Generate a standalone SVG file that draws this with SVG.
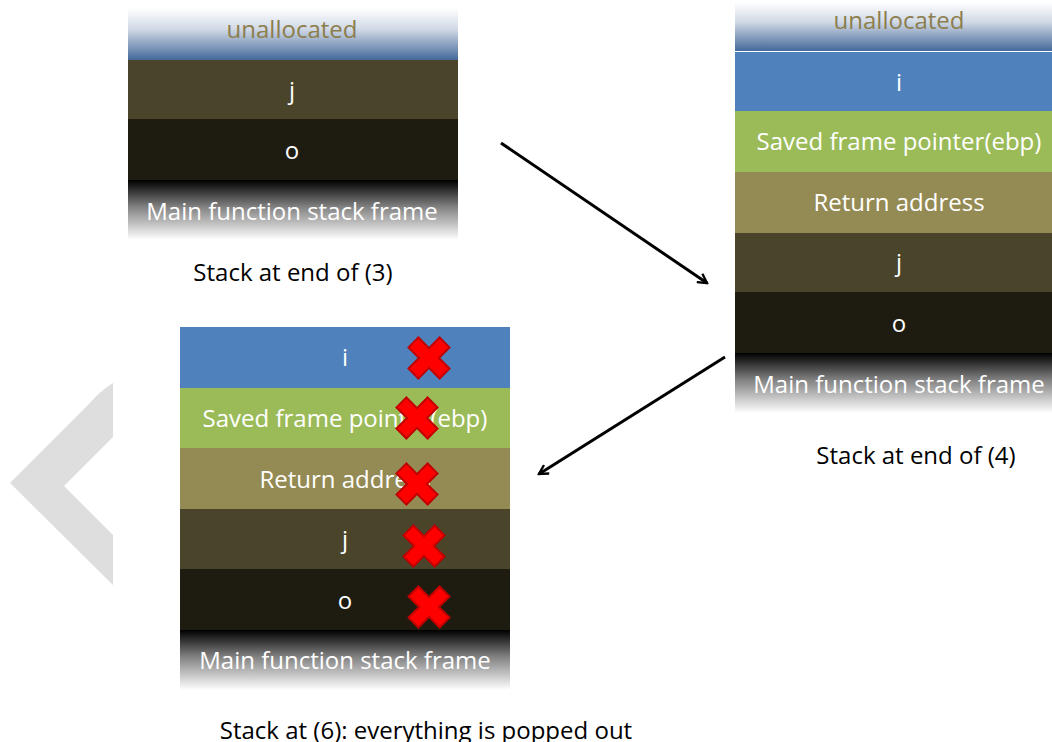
<svg xmlns="http://www.w3.org/2000/svg" width="1052" height="742" viewBox="0 0 1052 742">
  <defs>
    <linearGradient id="unalloc" x1="0" y1="0" x2="0" y2="1">
      <stop offset="0" stop-color="#ffffff"/>
      <stop offset="0.4" stop-color="#d2dae6"/>
      <stop offset="1" stop-color="#44699a"/>
    </linearGradient>
    <linearGradient id="mainframe" x1="0" y1="0" x2="0" y2="1">
      <stop offset="0" stop-color="#000000"/>
      <stop offset="0.45" stop-color="#828282"/>
      <stop offset="1" stop-color="#ffffff"/>
    </linearGradient>
    <marker id="arrow" viewBox="0 0 12 12" refX="10" refY="6" markerWidth="12" markerHeight="12" markerUnits="userSpaceOnUse" orient="auto">
      <path d="M1,1 L10,6 L1,11" fill="none" stroke="#000" stroke-width="2.4" stroke-linejoin="miter"/>
    </marker>
    <path id="cross" d="M-7,-22 L7,-22 L7,-7 L22,-7 L22,7 L7,7 L7,22 L-7,22 L-7,7 L-22,7 L-22,-7 L-7,-7 Z" transform="rotate(45)"/>
  </defs>
  <style>
    .lbl { font-family: "Open Sans", "Liberation Sans", sans-serif; font-size: 24px; fill: #ffffff; text-anchor: middle; }
    .un { font-family: "Open Sans", "Liberation Sans", sans-serif; font-size: 24px; fill: #8c7e4d; text-anchor: middle; }
    .cap { font-family: "Open Sans", "Liberation Sans", sans-serif; font-size: 24px; fill: #000000; text-anchor: middle; }
    .blue { fill: #4f81bd; }
    .green { fill: #9bbb59; }
    .tan { fill: #948a54; }
    .olive { fill: #4a452a; }
    .dark { fill: #1e1c11; }
    .x { fill: #ff0000; stroke: #c00000; stroke-width: 2; }
    .conn { stroke: #000; stroke-width: 3; fill: none; marker-end: url(#arrow); }
  </style>
  <rect width="1052" height="742" fill="#ffffff"/>

  <!-- faint chevron on the left edge -->
  <path d="M10,483 L88,405 Q100,391 113,383 L113,437 L64,486 L113,535 L113,585 Z" fill="#dedede"/>

  <!-- stack after step 3 -->
  <g id="stack3">
    <rect x="128" y="8" width="330" height="52" fill="url(#unalloc)"/>
    <rect x="128" y="60" width="330" height="59" class="olive"/>
    <rect x="128" y="119" width="330" height="61" class="dark"/>
    <rect x="128" y="180" width="330" height="60" fill="url(#mainframe)"/>
    <text x="292" y="38" class="un">unallocated</text>
    <text x="292" y="99" class="lbl">j</text>
    <text x="292" y="159" class="lbl">o</text>
    <text x="292" y="220" class="lbl">Main function stack frame</text>
    <text x="293" y="281" class="cap">Stack at end of (3)</text>
  </g>

  <!-- stack after step 4 -->
  <g id="stack4">
    <rect x="735" y="2" width="330" height="49" fill="url(#unalloc)"/>
    <rect x="735" y="52" width="330" height="59" class="blue"/>
    <rect x="735" y="111" width="330" height="61" class="green"/>
    <rect x="735" y="172" width="330" height="61" class="tan"/>
    <rect x="735" y="233" width="330" height="59" class="olive"/>
    <rect x="735" y="292" width="330" height="61" class="dark"/>
    <rect x="735" y="353" width="330" height="60" fill="url(#mainframe)"/>
    <text x="899" y="29" class="un">unallocated</text>
    <text x="899" y="91" class="lbl">i</text>
    <text x="899" y="150" class="lbl">Saved frame pointer(ebp)</text>
    <text x="899" y="211" class="lbl">Return address</text>
    <text x="899" y="271" class="lbl">j</text>
    <text x="899" y="332" class="lbl">o</text>
    <text x="899" y="393" class="lbl">Main function stack frame</text>
    <text x="916" y="464" class="cap">Stack at end of (4)</text>
  </g>

  <!-- stack after step 6 -->
  <g id="stack6">
    <rect x="180" y="327" width="330" height="61" class="blue"/>
    <rect x="180" y="388" width="330" height="60" class="green"/>
    <rect x="180" y="448" width="330" height="61" class="tan"/>
    <rect x="180" y="509" width="330" height="60" class="olive"/>
    <rect x="180" y="569" width="330" height="61" class="dark"/>
    <rect x="180" y="630" width="330" height="60" fill="url(#mainframe)"/>
    <text x="345" y="366" class="lbl">i</text>
    <text x="345" y="427" class="lbl">Saved frame pointer(ebp)</text>
    <text x="345" y="488" class="lbl">Return address</text>
    <text x="345" y="548" class="lbl">j</text>
    <text x="345" y="609" class="lbl">o</text>
    <text x="345" y="669" class="lbl">Main function stack frame</text>
    <g class="x">
      <use href="#cross" x="429" y="358"/>
      <use href="#cross" x="417" y="418"/>
      <use href="#cross" x="417" y="484"/>
      <use href="#cross" x="424" y="546"/>
      <use href="#cross" x="429" y="607"/>
    </g>
    <text x="426" y="739" class="cap">Stack at (6): everything is popped out</text>
  </g>

  <!-- transitions between stacks -->
  <g id="connectors">
    <line x1="501" y1="143" x2="707" y2="283" class="conn"/>
    <line x1="725" y1="357" x2="539" y2="474" class="conn"/>
  </g>
</svg>
